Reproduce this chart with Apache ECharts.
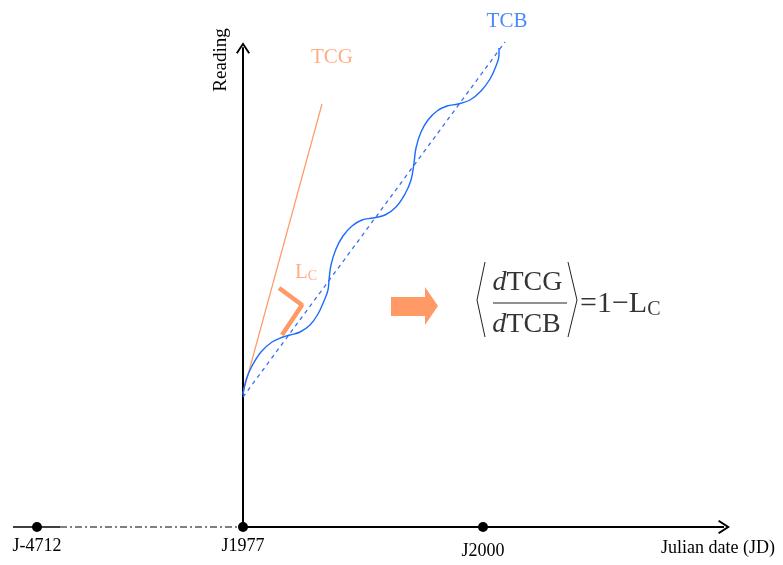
<!DOCTYPE html>
<html>
<head>
<meta charset="utf-8"/>
<title>TCG vs TCB</title>
<script src="https://cdn.jsdelivr.net/npm/echarts@6/dist/echarts.min.js"></script>
<style>
  html, body { margin: 0; padding: 0; background: #fff; }
  #main { width: 783px; height: 565px; }
</style>
</head>
<body>
<div id="main"></div>
<script type="text/javascript">
// epochs on the time axis
var epochNames = ['J-4712', 'J1977', 'J2000'];
var epochX = [-20.6, 0, 24.0];

// time axis pieces: short solid stub, broken (dash-dot) part, real axis
var axisSolidLeft = [[-23.0, 0], [-18.3, 0]];
var axisDashDot = [[-18.3, 0], [0, 0]];
var axisMain = [[0, 0], [48.1, 0]];

// TCG straight line and TCB mean trend
var tcgLine = [[0, 13.4], [7.9, 42.3]];
var tcbTrend = [[0, 13.0], [26.2, 48.5]];

// TCB periodic reading
var tcbWave = [
    [0, 13.2], [0.3, 14.7], [0.9, 16.1], [1.8, 17.5], [2.9, 18.5], [4.0, 19.0],
    [4.7, 19.2], [5.7, 19.5], [6.7, 20.2], [7.5, 21.3], [8.1, 22.6], [8.5, 23.7],
    [8.6, 24.7], [8.8, 26.2], [9.3, 27.8], [10.0, 29.1], [10.9, 30.1], [11.9, 30.7],
    [13.0, 30.9], [14.2, 31.2], [15.3, 32.0], [16.2, 33.3], [16.8, 34.7], [17.1, 36.4],
    [17.3, 37.9], [17.8, 39.5], [18.5, 40.7], [19.4, 41.6], [20.4, 42.1], [21.5, 42.3],
    [22.7, 42.7], [23.8, 43.6], [24.7, 44.8], [25.3, 46.1], [25.6, 47.2], [25.6, 47.9]
];

// L_C angle marker
var lcMark = [[3.6, 23.9], [5.9, 22.2], [3.9, 19.2]];

// formula brackets and fraction bar
var bracketLeft = [[24.2, 26.5], [23.4, 22.7], [24.2, 19.0]];
var bracketRight = [[32.5, 26.5], [33.4, 22.7], [32.5, 19.0]];
var fractionBar = [[25.0, 22.4], [32.4, 22.4]];

var ORANGE = '#FF9966';
var BLUE = '#1E6BFF';
var SERIF = '"Liberation Serif", "Times New Roman", serif';
var chevron = 'path://M7,0 L14,10.5 L12.4,11.6 L7,3.4 L1.6,11.6 L0,10.5 Z';

var epochData = [];
for (var i = 0; i < epochNames.length; i++) {
    epochData.push({
        name: epochNames[i],
        value: [epochX[i], 0],
        label: { distance: epochNames[i] === 'J2000' ? 10 : 5 }
    });
}

function textPoint(x, y, text, pos, rich) {
    return {
        type: 'scatter', symbolSize: 0, clip: false, silent: true,
        data: [[x, y]],
        label: {
            show: true, position: pos, distance: 0,
            formatter: text, rich: rich,
            fontFamily: SERIF
        }
    };
}

function plainLine(data, color, width, type) {
    return {
        type: 'line', data: data, symbol: 'none', clip: false, silent: true,
        lineStyle: { color: color, width: width, type: type || 'solid' }
    };
}

var myChart = echarts.init(document.getElementById('main'));

var option = {
    animation: false,
    backgroundColor: '#fff',
    grid: { left: 13, right: 59, top: 48, bottom: 38, outerBoundsMode: 'none' },
    xAxis: {
        type: 'value', min: -23.0, max: 48.1,
        name: 'Julian date (JD)', nameLocation: 'end', nameGap: 51,
        nameTextStyle: {
            fontFamily: SERIF, fontSize: 18, color: '#000',
            align: 'right', verticalAlign: 'top', padding: [12, 0, 0, 0]
        },
        axisLine: { show: false },
        axisTick: { show: false }, axisLabel: { show: false }, splitLine: { show: false }
    },
    yAxis: {
        type: 'value', min: 0, max: 47.9,
        name: 'Reading', nameLocation: 'end', nameGap: -12, nameRotate: 90,
        nameTextStyle: {
            fontFamily: SERIF, fontSize: 19, color: '#000',
            align: 'center', verticalAlign: 'bottom', padding: [0, 0, 12, 0]
        },
        axisLine: {
            onZero: true,
            lineStyle: { color: '#000', width: 2 },
            symbol: ['none', chevron], symbolSize: [14, 12]
        },
        axisTick: { show: false }, axisLabel: { show: false }, splitLine: { show: false }
    },
    series: [
        plainLine(axisSolidLeft, '#000', 1.5),
        plainLine(axisDashDot, '#000', 1.2, [7, 3, 2, 3]),
        plainLine(axisMain, '#000', 2),
        {
            type: 'scatter', data: [[48.1, 0]], clip: false, silent: true,
            symbol: chevron, symbolSize: [14, 12], symbolRotate: -90,
            itemStyle: { color: '#000', opacity: 1 }
        },
        plainLine(tcgLine, ORANGE, 1.2),
        plainLine(tcbTrend, '#3570F5', 1.3, [4, 4]),
        {
            type: 'line', data: tcbWave, smooth: 0.4, symbol: 'none', clip: false, silent: true,
            lineStyle: { color: BLUE, width: 1.4 }
        },
        plainLine(lcMark, ORANGE, 4.5),
        plainLine(bracketLeft, '#222', 1),
        plainLine(bracketRight, '#222', 1),
        plainLine(fractionBar, '#222', 1.2),
        {
            type: 'scatter', data: [[17.15, 22.1]], clip: false, silent: true,
            symbol: 'path://M0,10 L34,10 L34,0 L47,19 L34,38 L34,29 L0,29 Z',
            symbolSize: [47, 38],
            itemStyle: { color: ORANGE, opacity: 1 }
        },
        {
            type: 'scatter', data: epochData, clip: false, silent: true,
            symbolSize: 10, itemStyle: { color: '#000', opacity: 1 },
            label: {
                show: true, position: 'bottom', formatter: '{b}',
                fontFamily: SERIF, fontSize: 18, color: '#000'
            }
        },
        textPoint(8.9, 47.0, '{o|TCG}', 'inside', {
            o: { fontFamily: SERIF, fontSize: 21, color: ORANGE }
        }),
        textPoint(26.4, 50.6, '{b|TCB}', 'inside', {
            b: { fontFamily: SERIF, fontSize: 21, color: BLUE }
        }),
        textPoint(5.2, 25.5, '{m|L}{s|C}', 'right', {
            m: { fontFamily: SERIF, fontSize: 21, lineHeight: 22, color: ORANGE },
            s: { fontFamily: SERIF, fontSize: 14, lineHeight: 18, verticalAlign: 'bottom', color: ORANGE }
        }),
        textPoint(28.45, 24.45, '{i|d}{m|TCG}', 'inside', {
            i: { fontFamily: SERIF, fontSize: 28, fontStyle: 'italic', color: '#000' },
            m: { fontFamily: SERIF, fontSize: 28, color: '#000' }
        }),
        textPoint(28.35, 20.25, '{i|d}{m|TCB}', 'inside', {
            i: { fontFamily: SERIF, fontSize: 28, fontStyle: 'italic', color: '#000' },
            m: { fontFamily: SERIF, fontSize: 28, color: '#000' }
        }),
        textPoint(33.7, 22.3, '{m|=1\u2212L}{s|C}', 'right', {
            m: { fontFamily: SERIF, fontSize: 30, lineHeight: 32, color: '#000' },
            s: { fontFamily: SERIF, fontSize: 20, lineHeight: 25, verticalAlign: 'bottom', color: '#000' }
        })
    ]
};

myChart.setOption(option);
</script>
</body>
</html>
